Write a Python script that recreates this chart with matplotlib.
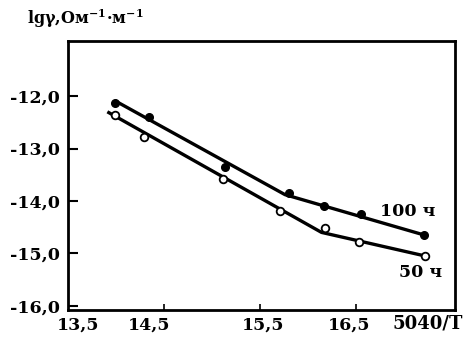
import matplotlib
matplotlib.use("Agg")
import matplotlib.pyplot as plt

plt.rcParams["mathtext.fontset"] = "dejavuserif"

# Measured points: lg(conductivity) vs 5040/T
x_100h = [13.99, 14.34, 15.14, 15.80, 16.17, 16.55, 17.21]
y_100h = [-12.13, -12.39, -13.36, -13.85, -14.09, -14.25, -14.65]
x_50h = [13.99, 14.29, 15.11, 15.71, 16.18, 16.53, 17.22]
y_50h = [-12.36, -12.78, -13.58, -14.20, -14.52, -14.79, -15.05]

# Two-segment fitted lines
fit_x_100h = [13.99, 15.76, 17.21]
fit_y_100h = [-12.09, -13.88, -14.65]
fit_x_50h = [13.91, 16.14, 17.22]
fit_y_50h = [-12.30, -14.60, -15.05]

x_ticks = [14.5, 15.5, 16.5]
x_tick_labels = ["13,5", "14,5", "15,5", "16,5"]
x_label_pos = [13.61, 14.34, 15.53, 16.43]
y_ticks = [-12.0, -13.0, -14.0, -15.0, -16.0]
y_tick_labels = ["-12,0", "-13,0", "-14,0", "-15,0", "-16,0"]

font = dict(family="DejaVu Serif", weight="bold")

fig = plt.figure(figsize=(4.65, 3.37), dpi=100)
ax = fig.add_axes([0.1462, 0.0801, 0.8323, 0.7982])

ax.plot(fit_x_100h, fit_y_100h, color="black", lw=2.4, solid_capstyle="butt")
ax.plot(fit_x_50h, fit_y_50h, color="black", lw=2.4, solid_capstyle="butt")
ax.plot(x_100h, y_100h, "o", ms=5.5, mfc="black", mec="black", zorder=3)
ax.plot(x_50h, y_50h, "o", ms=5.5, mfc="white", mec="black", mew=1.3, zorder=3)

ax.set_xlim(13.5, 17.53)
ax.set_ylim(-16.08, -10.95)

ax.set_xticks(x_ticks)
ax.set_xticklabels([])
ax.set_yticks(y_ticks)
ax.set_yticklabels(y_tick_labels, fontsize=12.5, **font)
ax.tick_params(axis="y", direction="in", length=7, width=1.5, pad=6)
ax.tick_params(axis="x", direction="in", length=4, width=1.2)

for xp, lab in zip(x_label_pos, x_tick_labels):
    ax.text(xp, -16.2, lab, ha="center", va="top", fontsize=12.5, **font)
fig.text(0.996, 0.068, "5040/T", ha="right", va="top", fontsize=13, **font)

for side in ax.spines.values():
    side.set_linewidth(2.0)

ax.text(17.04, -14.20, "100 ч", ha="center", va="center", fontsize=12.5, **font)
ax.text(17.17, -15.37, "50 ч", ha="center", va="center", fontsize=12.5, **font)

fig.text(0.058, 0.945, r"lgγ,Ом$^{\mathbf{-1}}$·м$^{\mathbf{-1}}$", ha="left",
         va="center", fontsize=11.5, **font)

fig.savefig("out.png", dpi=100)
